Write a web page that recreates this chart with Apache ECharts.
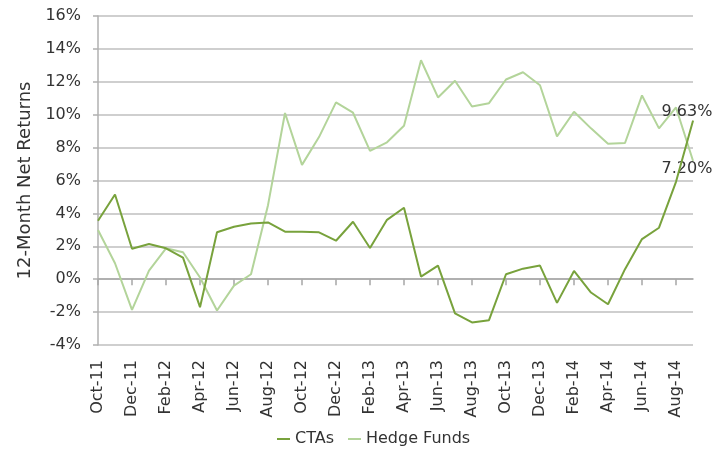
<!DOCTYPE html>
<html>
<head>
<meta charset="utf-8">
<script src="https://cdn.jsdelivr.net/npm/echarts@6/dist/echarts.min.js"></script>
<style>html,body{margin:0;padding:0;background:#fff}#c{width:728px;height:455px}</style>
</head>
<body>
<div id="c"></div>
<script>
const months = ['Oct-11','Nov-11','Dec-11','Jan-12','Feb-12','Mar-12','Apr-12','May-12','Jun-12','Jul-12','Aug-12','Sep-12',
  'Oct-12','Nov-12','Dec-12','Jan-13','Feb-13','Mar-13','Apr-13','May-13','Jun-13','Jul-13','Aug-13','Sep-13',
  'Oct-13','Nov-13','Dec-13','Jan-14','Feb-14','Mar-14','Apr-14','May-14','Jun-14','Jul-14','Aug-14','Sep-14'];
const ctas = [3.55,5.15,1.85,2.14,1.88,1.31,-1.70,2.85,3.19,3.39,3.45,2.89,
  2.89,2.85,2.34,3.49,1.90,3.61,4.34,0.16,0.83,-2.08,-2.63,-2.49,
  0.30,0.64,0.83,-1.44,0.50,-0.81,-1.52,0.61,2.44,3.13,5.92,9.63];
const hedgeFunds = [2.99,0.97,-1.86,0.52,1.88,1.64,0.10,-1.90,-0.39,0.30,4.5,10.10,
  6.95,8.64,10.75,10.12,7.80,8.32,9.33,13.31,11.05,12.06,10.50,10.70,
  12.14,12.58,11.79,8.68,10.18,9.17,8.24,8.28,11.17,9.17,10.44,7.20];
const yTicks = {min:-4, max:16, step:2};
const seriesNames = ['CTAs','Hedge Funds'];
const yTitle = '12-Month Net Returns';

const FONT = 'DejaVu Sans';
const TXT = '#333333';
function withLastLabel(arr, pos){
  return arr.map((v,i)=> i===arr.length-1 ? {value:v, symbol:'circle', symbolSize:1, label:{show:true, position:pos, distance:0, offset:[-6,0],
    formatter: p => p.value.toFixed(2)+'%', fontFamily:FONT, fontSize:16, color:TXT}} : {value:v, symbol:'none'});
}
const chart = echarts.init(document.getElementById('c'), null, {renderer:'canvas'});
chart.setOption({
  animation:false,
  grid:{left:98, right:35, top:16, bottom:110, containLabel:false},
  legend:{
    data:seriesNames, bottom:3, left:272, itemWidth:13, itemHeight:2, icon:'rect', itemGap:14,
    textStyle:{fontFamily:FONT, fontSize:16, color:TXT}
  },
  xAxis:[{
    type:'category', data:months, boundaryGap:false,
    axisLine:{show:false, onZero:false}, axisTick:{show:false},
    axisLabel:{interval:1, rotate:90, margin:15, fontFamily:FONT, fontSize:16, color:TXT},
    splitLine:{show:false}
  },{
    type:'category', data:months, boundaryGap:false, position:'bottom',
    axisLine:{show:true, onZero:true, lineStyle:{color:'#A6A6A6', width:1.5}},
    axisTick:{show:true, interval:1, length:6, lineStyle:{color:'#A6A6A6', width:1.5}},
    axisLabel:{show:false}, splitLine:{show:false}
  }],
  yAxis:{
    type:'value', min:yTicks.min, max:yTicks.max, interval:yTicks.step,
    name:yTitle, nameLocation:'middle', nameGap:60,
    nameTextStyle:{fontFamily:FONT, fontSize:18, color:TXT},
    axisLine:{show:true, lineStyle:{color:'#B0B0B0', width:1.5}},
    axisTick:{show:true, length:5, lineStyle:{color:'#B0B0B0', width:1.5}},
    axisLabel:{formatter:'{value}%', margin:17, fontFamily:FONT, fontSize:16, color:TXT},
    splitLine:{show:true, lineStyle:{color:'#BFBFBF', width:1.5}}
  },
  series:[{
    name:seriesNames[0], type:'line', data:withLastLabel(ctas,'top'), xAxisIndex:0,
    showSymbol:true, lineStyle:{color:'#78A23C', width:2}, itemStyle:{color:'#78A23C'}, z:3
  },{
    name:seriesNames[1], type:'line', data:withLastLabel(hedgeFunds,'bottom'), xAxisIndex:0,
    showSymbol:true, lineStyle:{color:'#B3D49A', width:2}, itemStyle:{color:'#B3D49A'}, z:2
  }]
});
</script>
</body>
</html>
